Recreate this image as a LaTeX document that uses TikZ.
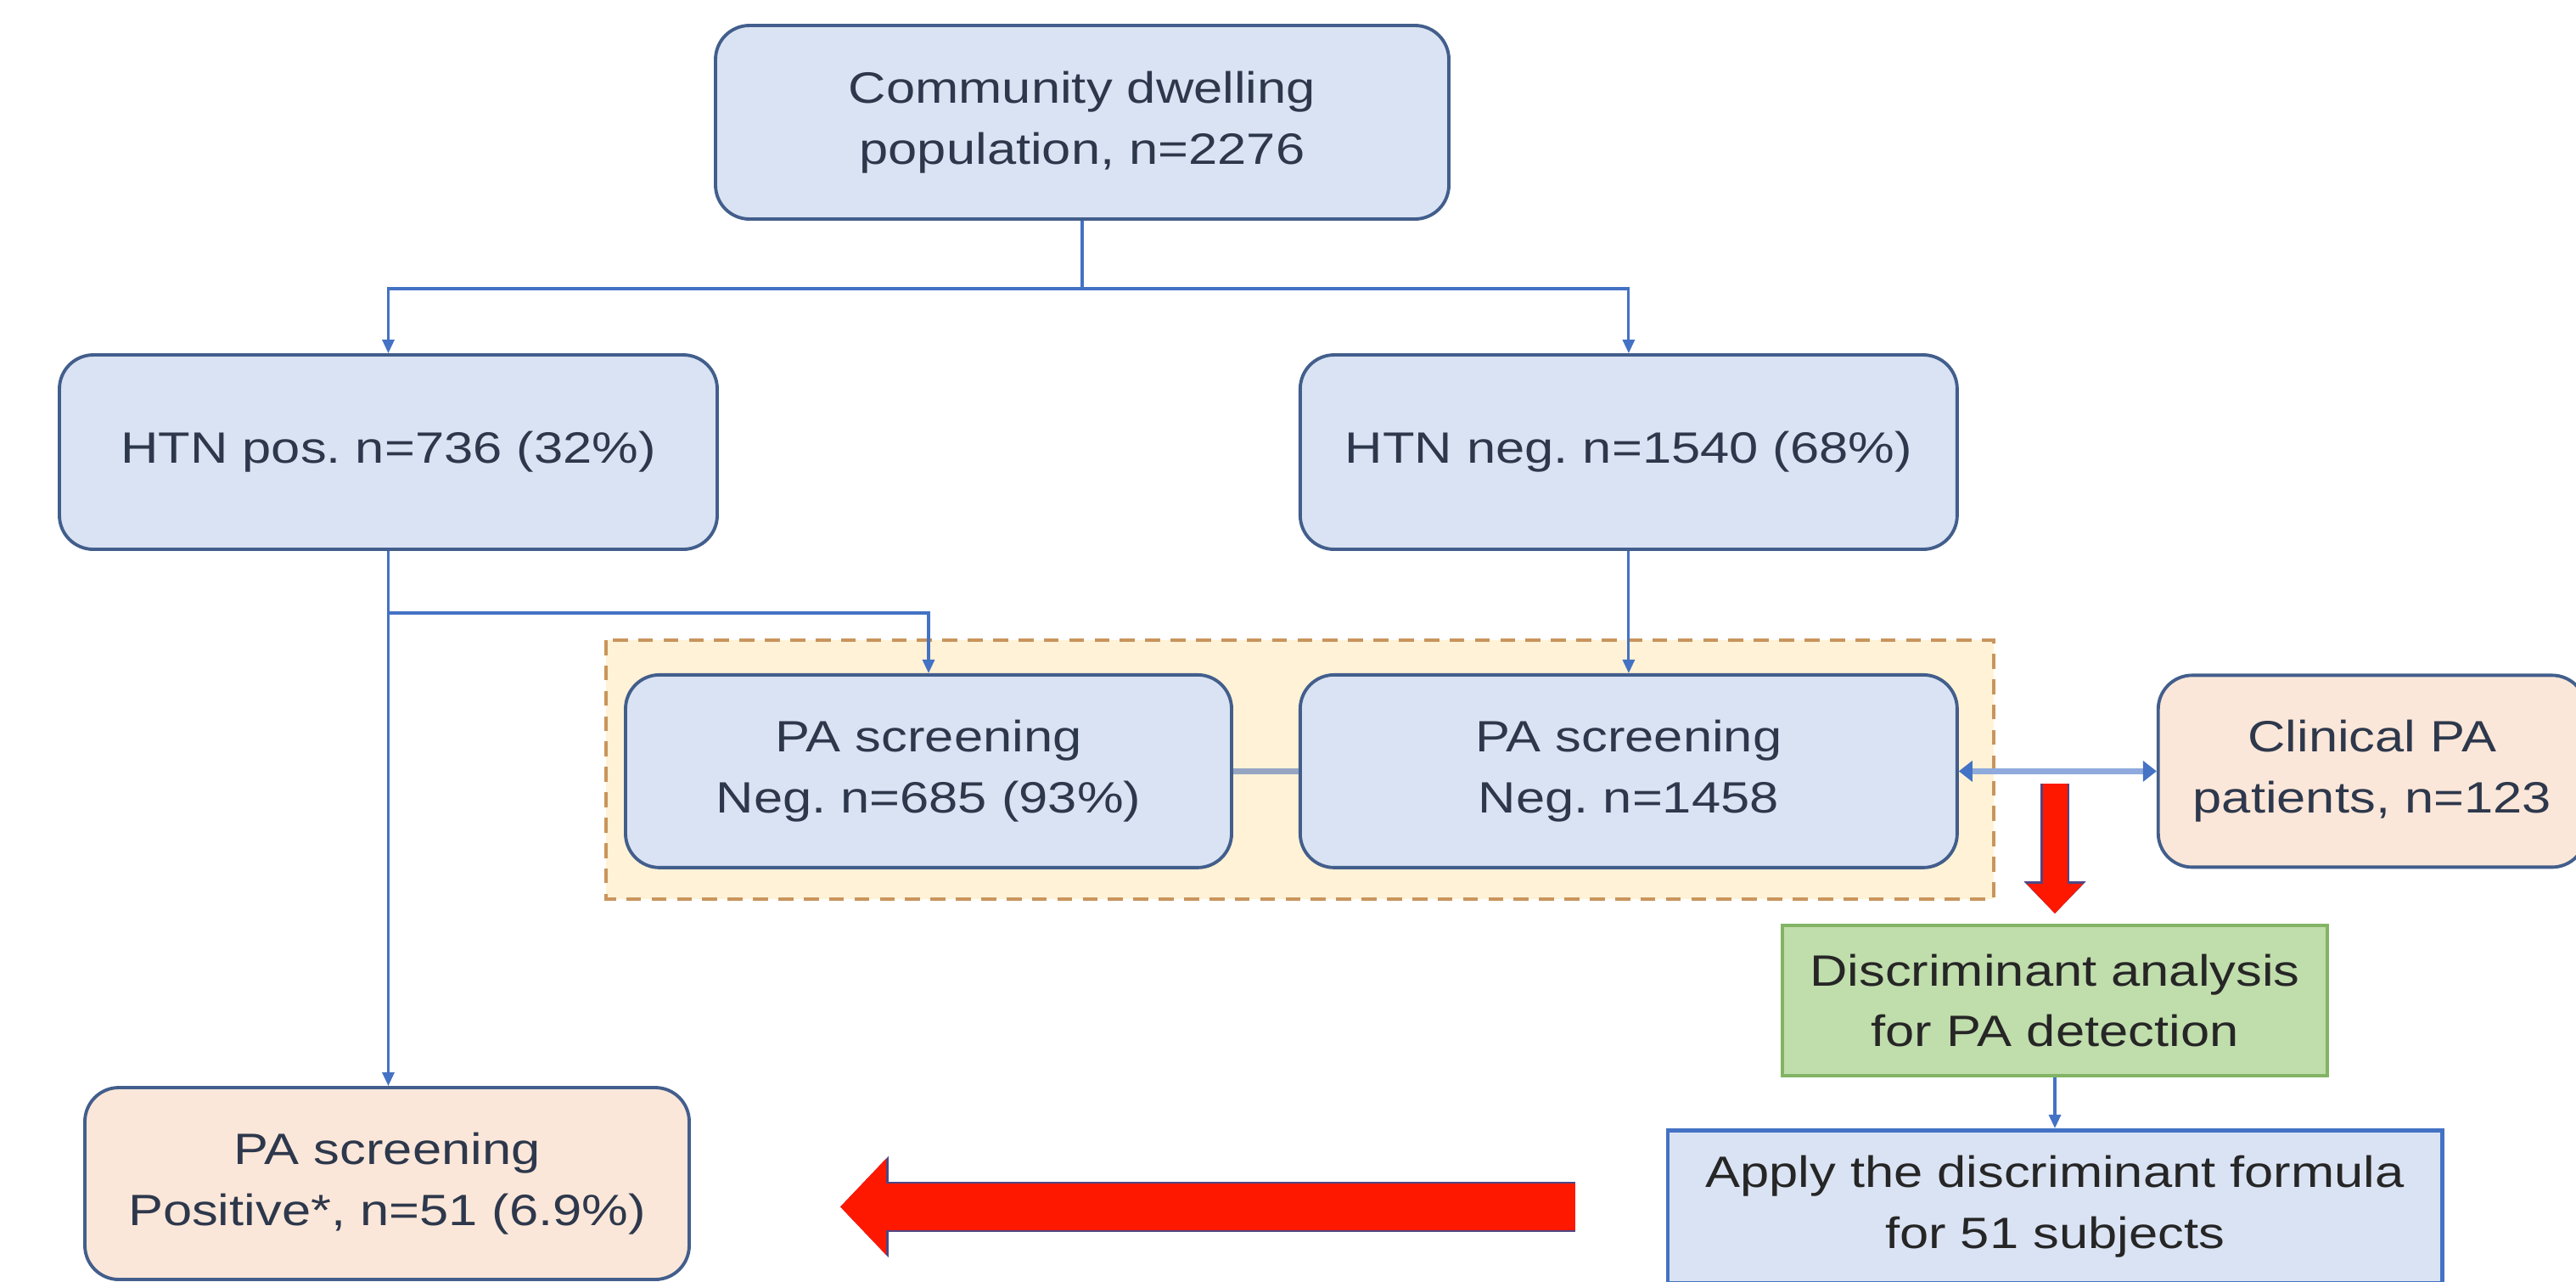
\documentclass[tikz,border=0pt]{standalone}
\usepackage{fontspec}
\setmainfont[FakeStretch=1.19]{Liberation Sans}
\usetikzlibrary{positioning,arrows.meta,calc,backgrounds}
\definecolor{BoxBlue}{RGB}{218,227,243}
\definecolor{EdgeBlue}{RGB}{66,94,140}
\definecolor{LinkBlue}{RGB}{68,114,196}
\definecolor{PeachFill}{RGB}{251,231,217}
\definecolor{FrameFill}{RGB}{255,242,214}
\definecolor{FrameEdge}{RGB}{201,149,92}
\definecolor{GreenFill}{RGB}{192,221,172}
\definecolor{GreenEdge}{RGB}{130,180,100}
\definecolor{TextGray}{RGB}{46,56,76}
\definecolor{AlertRed}{RGB}{255,24,0}
\definecolor{AlertEdge}{RGB}{80,70,130}
\definecolor{LinkGrey}{RGB}{150,166,194}
\definecolor{PairBlue}{RGB}{143,170,220}
\newcommand{\flowfont}{\frenchspacing\fontsize{14.7}{20.4}\selectfont}
\tikzset{
  conn/.style={-{Triangle[length=1.6mm,width=1.4mm]},line width=0.9pt,draw=LinkBlue},
  plain/.style={line width=0.9pt,draw=LinkBlue},
  pairlink/.style={line width=2.2pt,draw=LinkGrey},
  twoway/.style={{Triangle[length=1.6mm,width=2.4mm,color=LinkBlue]}-{Triangle[length=1.6mm,width=2.4mm,color=LinkBlue]},
    line width=2pt,draw=PairBlue},
  downred/.style={line width=0.29cm,draw=AlertRed,-{Triangle[length=0.35cm,width=0.64cm]},
    preaction={draw=AlertEdge,line width=0.34cm,-{Triangle[length=0.38cm,width=0.71cm]}}},
  leftred/.style={line width=0.55cm,draw=AlertRed,-{Triangle[length=0.54cm,width=1.10cm]},
    preaction={draw=AlertEdge,line width=0.59cm,-{Triangle[length=0.57cm,width=1.16cm]}}},
  bluebox/.style={draw=EdgeBlue,fill=BoxBlue,rounded corners=0.4cm,line width=1.1pt,
    align=center,text=TextGray,font=\flowfont,inner sep=2pt},
  peachbox/.style={bluebox,fill=PeachFill},
  greenbox/.style={draw=GreenEdge,fill=GreenFill,line width=1.1pt,
    align=center,text=black!85,font=\flowfont,inner sep=2pt},
  flatbox/.style={draw=LinkBlue,fill=BoxBlue,line width=1.4pt,
    align=center,text=black!85,font=\flowfont,inner sep=2pt},
  frame/.style={draw=FrameEdge,fill=FrameFill,dash pattern=on 5pt off 3.5pt,line width=1.2pt}
}

\begin{document}
\begin{tikzpicture}
  \useasboundingbox (0,0) rectangle (30.35,-15.09);
  \node[bluebox,minimum width=8.64cm,minimum height=2.28cm] (pop) at (12.75,-1.44)
    {Community dwelling\\population, n=2276};
  \node[bluebox,minimum width=7.75cm,minimum height=2.29cm] (htnpos) at (4.575,-5.325)
    {HTN pos. n=736 (32\%)};
  \node[bluebox,minimum width=7.74cm,minimum height=2.29cm,right=6.83cm of htnpos] (htnneg)
    {HTN neg. n=1540 (68\%)};
  \node[bluebox,minimum width=7.74cm,minimum height=2.27cm,below=1.44cm of htnneg] (neg2)
    {PA screening\\Neg. n=1458};
  \node[bluebox,minimum width=7.14cm,minimum height=2.27cm,left=0.77cm of neg2] (neg1)
    {PA screening\\Neg. n=685 (93\%)};
  \node[peachbox,minimum width=5.04cm,minimum height=2.26cm,right=2.33cm of neg2] (clinical)
    {Clinical PA\\patients, n=123};
  \node[greenbox,minimum width=6.42cm,minimum height=1.77cm] (green) at (24.21,-11.785)
    {Discriminant analysis\\for PA detection};
  \node[flatbox,minimum width=9.12cm,minimum height=1.80cm,below=0.6cm of green] (apply)
    {Apply the discriminant formula\\for 51 subjects};
  \node[peachbox,minimum width=7.12cm,minimum height=2.26cm] (pospa) at (4.56,-13.94)
    {PA screening\\Positive*, n=51 (6.9\%)};

  % group of the negative screenings
  \begin{scope}[on background layer]
    \draw[frame] ($(neg1.north west)+(-0.21,0.39)$) rectangle ($(neg2.south east)+(0.41,-0.35)$);
  \end{scope}

  \draw[plain] (pop.south) -- ++(0,-0.8) coordinate (split);
  \draw[conn] (split) -| (htnpos.north);
  \draw[conn] (split) -| (htnneg.north);
  \draw[conn] (htnpos.south) -- (htnpos.south |- pospa.north);
  \draw[conn] (htnpos.south) -- ++(0,-0.73) -| (neg1.north);
  \draw[conn] (htnneg.south) -- (neg2.north);
  \draw[pairlink] (neg1.east) -- (neg2.west);
  \draw[twoway] (neg2.east) -- (clinical.west);
  \draw[conn] (green.south) -- (apply.north);

  \coordinate (redtop) at ($(green.north)+(0,1.65)$);
  \draw[downred,shorten >=0.12cm] (redtop) -- (green.north);
  \draw[leftred,shorten <=1.07cm,shorten >=1.76cm] (apply.west) -- (apply.west -| pospa.east);
\end{tikzpicture}
\end{document}
